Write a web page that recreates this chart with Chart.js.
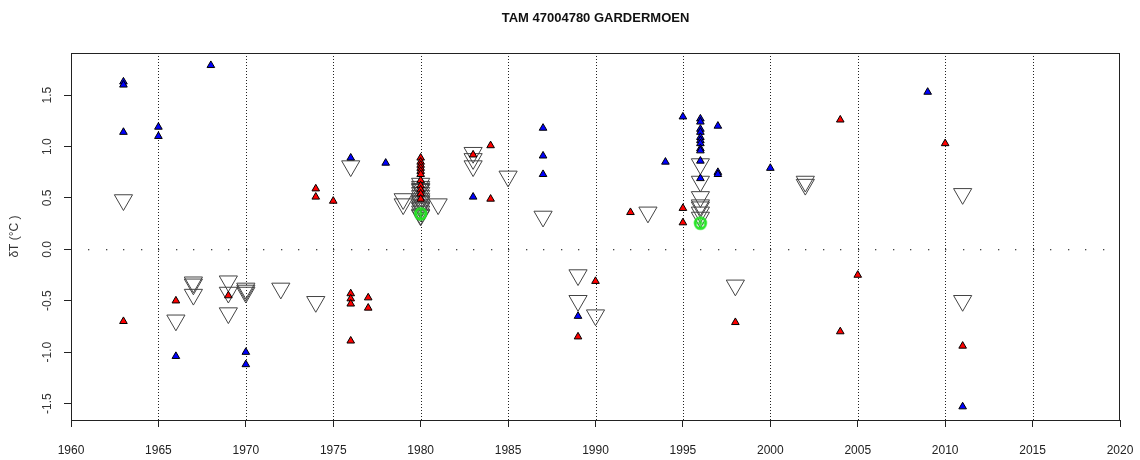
<!DOCTYPE html>
<html>
<head>
<meta charset="utf-8">
<script src="https://cdn.jsdelivr.net/npm/chart.js@4"></script>
<style>
  html, body { margin: 0; padding: 0; background: #fff; }
</style>
</head>
<body>
<canvas id="c" width="1140" height="460"></canvas>
<script>
// values (year, deltaT)
const blueYears = [1963,1963,1963,1965,1965,1966,1968,1970,1970,1976,1978,1983,1987,1987,1987,1989,1994,1995,
  1996,1996,1996,1996,1996,1996,1996,1996,1996,1996,1996,1997,1997,1997,2000,2009,2011];
const blueVals  = [1.63,1.60,1.14,1.19,1.10,-1.04,1.79,-1.00,-1.12,0.89,0.84,0.51,1.18,0.91,0.73,-0.65,0.85,1.29,
  1.27,1.24,1.17,1.14,1.09,1.06,1.03,0.98,0.96,0.86,0.69,1.20,0.75,0.73,0.79,1.53,-1.53];

const redYears = [1963,1966,1969,1974,1974,1975,1976,1976,1976,1976,1977,1977,
  1980,1980,1980,1980,1980,1980,1980,1980,1980,1980,1980,
  1983,1984,1984,1989,1990,1992,1995,1995,1998,2004,2004,2005,2010,2011];
const redVals  = [-0.70,-0.50,-0.45,0.59,0.51,0.47,-0.43,-0.48,-0.53,-0.89,-0.47,-0.57,
  0.89,0.85,0.82,0.79,0.76,0.73,0.67,0.62,0.58,0.54,0.49,
  0.92,1.01,0.49,-0.85,-0.31,0.36,0.40,0.26,-0.71,1.26,-0.80,-0.25,1.03,-0.94];

const openYears = [1963,1966,1967,1967,1967,1969,1969,1969,1970,1970,1970,1972,1974,1976,1979,1979,
  1980,1980,1980,1980,1980,1980,1980,1980,1980,1980,1980,1980,1980,1980,1980,
  1981,1983,1983,1983,1985,1987,1989,1989,1990,1993,
  1996,1996,1996,1996,1996,1996,1996,1998,2002,2002,2011,2011];
const openVals  = [0.48,-0.69,-0.32,-0.34,-0.44,-0.31,-0.42,-0.62,-0.38,-0.40,-0.42,-0.38,-0.51,0.81,0.49,0.44,
  0.64,0.61,0.59,0.58,0.55,0.52,0.49,0.47,0.46,0.43,0.41,0.40,0.37,0.34,0.33,
  0.44,0.94,0.88,0.81,0.71,0.32,-0.25,-0.50,-0.64,0.36,
  0.83,0.66,0.51,0.43,0.41,0.36,0.31,-0.35,0.66,0.63,0.54,-0.50];

const greenYears = [1980,1980,1996,1996];
const greenVals  = [0.35,0.34,0.26,0.25];

const gridYears = [1965,1970,1975,1980,1985,1990,1995,2000,2005,2010,2015];
const chartTitle = 'TAM 47004780 GARDERMOEN';
const yTitle = 'δT (°C )';

function pts(xs, ys) { return xs.map((v, i) => ({x: v, y: ys[i]})); }

// green circle-with-cross marker
const greenMark = document.createElement('canvas');
greenMark.width = 16; greenMark.height = 16;
(function(){
  const g = greenMark.getContext('2d');
  g.strokeStyle = '#22e622'; g.lineWidth = 1.6;
  g.beginPath(); g.arc(8, 8, 5.5, 0, Math.PI*2); g.stroke();
  g.lineWidth = 1.1;
  g.beginPath(); g.moveTo(8, 2.5); g.lineTo(8, 13.5); g.moveTo(2.5, 8); g.lineTo(13.5, 8); g.stroke();
})();

const FONT = '"Liberation Sans", Arial, sans-serif';

const decor = {
  id: 'decor',
  beforeDatasetsDraw(chart) {
    const {ctx, chartArea: a, scales: {x, y}} = chart;
    ctx.save();
    ctx.strokeStyle = '#222'; ctx.lineWidth = 1; ctx.setLineDash([1, 2]);
    gridYears.forEach(v => {
      const px = Math.round(x.getPixelForValue(v)) + 0.5;
      ctx.beginPath(); ctx.moveTo(px, a.top); ctx.lineTo(px, a.bottom); ctx.stroke();
    });
    ctx.setLineDash([]);
    ctx.fillStyle = '#444';
    const y0 = Math.round(y.getPixelForValue(0));
    for (let yr = x.min + 1; yr < x.max; yr++) {
      ctx.fillRect(Math.round(x.getPixelForValue(yr)), y0, 1.3, 1.3);
    }
    ctx.restore();
  },
  afterDraw(chart) {
    const {ctx, chartArea: a, scales: {y}} = chart;
    ctx.save();
    ctx.strokeStyle = '#222'; ctx.lineWidth = 1;
    ctx.strokeRect(a.left + 0.5, a.top + 0.5, a.right - a.left - 1, a.bottom - a.top);
    ctx.fillStyle = '#111';
    ctx.font = 'bold 13px ' + FONT;
    ctx.textAlign = 'center'; ctx.textBaseline = 'middle';
    ctx.fillText(chartTitle, (a.left + a.right) / 2, 18);
    ctx.font = '12px ' + FONT;
    ctx.fillStyle = '#333';
    y.ticks.forEach(t => {
      ctx.save();
      ctx.translate(48, y.getPixelForValue(t.value));
      ctx.rotate(-Math.PI / 2);
      ctx.fillText(t.value.toFixed(1), 0, 0);
      ctx.restore();
    });
    ctx.save();
    ctx.translate(15, (a.top + a.bottom) / 2);
    ctx.rotate(-Math.PI / 2);
    ctx.fillText(yTitle, 0, 0);
    ctx.restore();
    ctx.restore();
  }
};

new Chart(document.getElementById('c'), {
  type: 'scatter',
  data: {
    datasets: [
      { label: 'green', data: pts(greenYears, greenVals), pointStyle: greenMark, pointRadius: 8 },
      { label: 'blue', data: pts(blueYears, blueVals), pointStyle: 'triangle', pointRadius: 4.4,
        backgroundColor: '#0000ff', borderColor: '#000', borderWidth: 1 },
      { label: 'red', data: pts(redYears, redVals), pointStyle: 'triangle', pointRadius: 4.4,
        backgroundColor: '#ff0000', borderColor: '#000', borderWidth: 1 },
      { label: 'open', data: pts(openYears, openVals), pointStyle: 'triangle', rotation: 180, pointRadius: 10.5,
        backgroundColor: 'rgba(0,0,0,0)', borderColor: '#444', borderWidth: 1 }
    ]
  },
  options: {
    responsive: false, animation: false,
    layout: { padding: { top: 53, right: 20, left: 0, bottom: 0 } },
    plugins: { legend: { display: false }, tooltip: { enabled: false }, title: { display: false } },
    scales: {
      x: {
        type: 'linear', min: 1960, max: 2020,
        ticks: { stepSize: 5, color: '#222', font: { size: 12, family: FONT }, padding: 16, maxRotation: 0,
          callback: v => String(v) },
        grid: { drawOnChartArea: false, drawTicks: true, tickLength: 7, color: '#222', tickColor: '#222' },
        border: { display: false },
        afterFit: s => { s.height = 40; s.paddingLeft = 0; s.paddingRight = 0; }
      },
      y: {
        min: -1.66, max: 1.91,
        ticks: { stepSize: 0.5, includeBounds: false, display: false },
        grid: { drawOnChartArea: false, drawTicks: true, tickLength: 7, color: '#222', tickColor: '#222' },
        border: { display: false },
        afterFit: s => { s.width = 71; s.paddingTop = 0; s.paddingBottom = 0; }
      }
    }
  },
  plugins: [decor]
});
</script>
</body>
</html>
